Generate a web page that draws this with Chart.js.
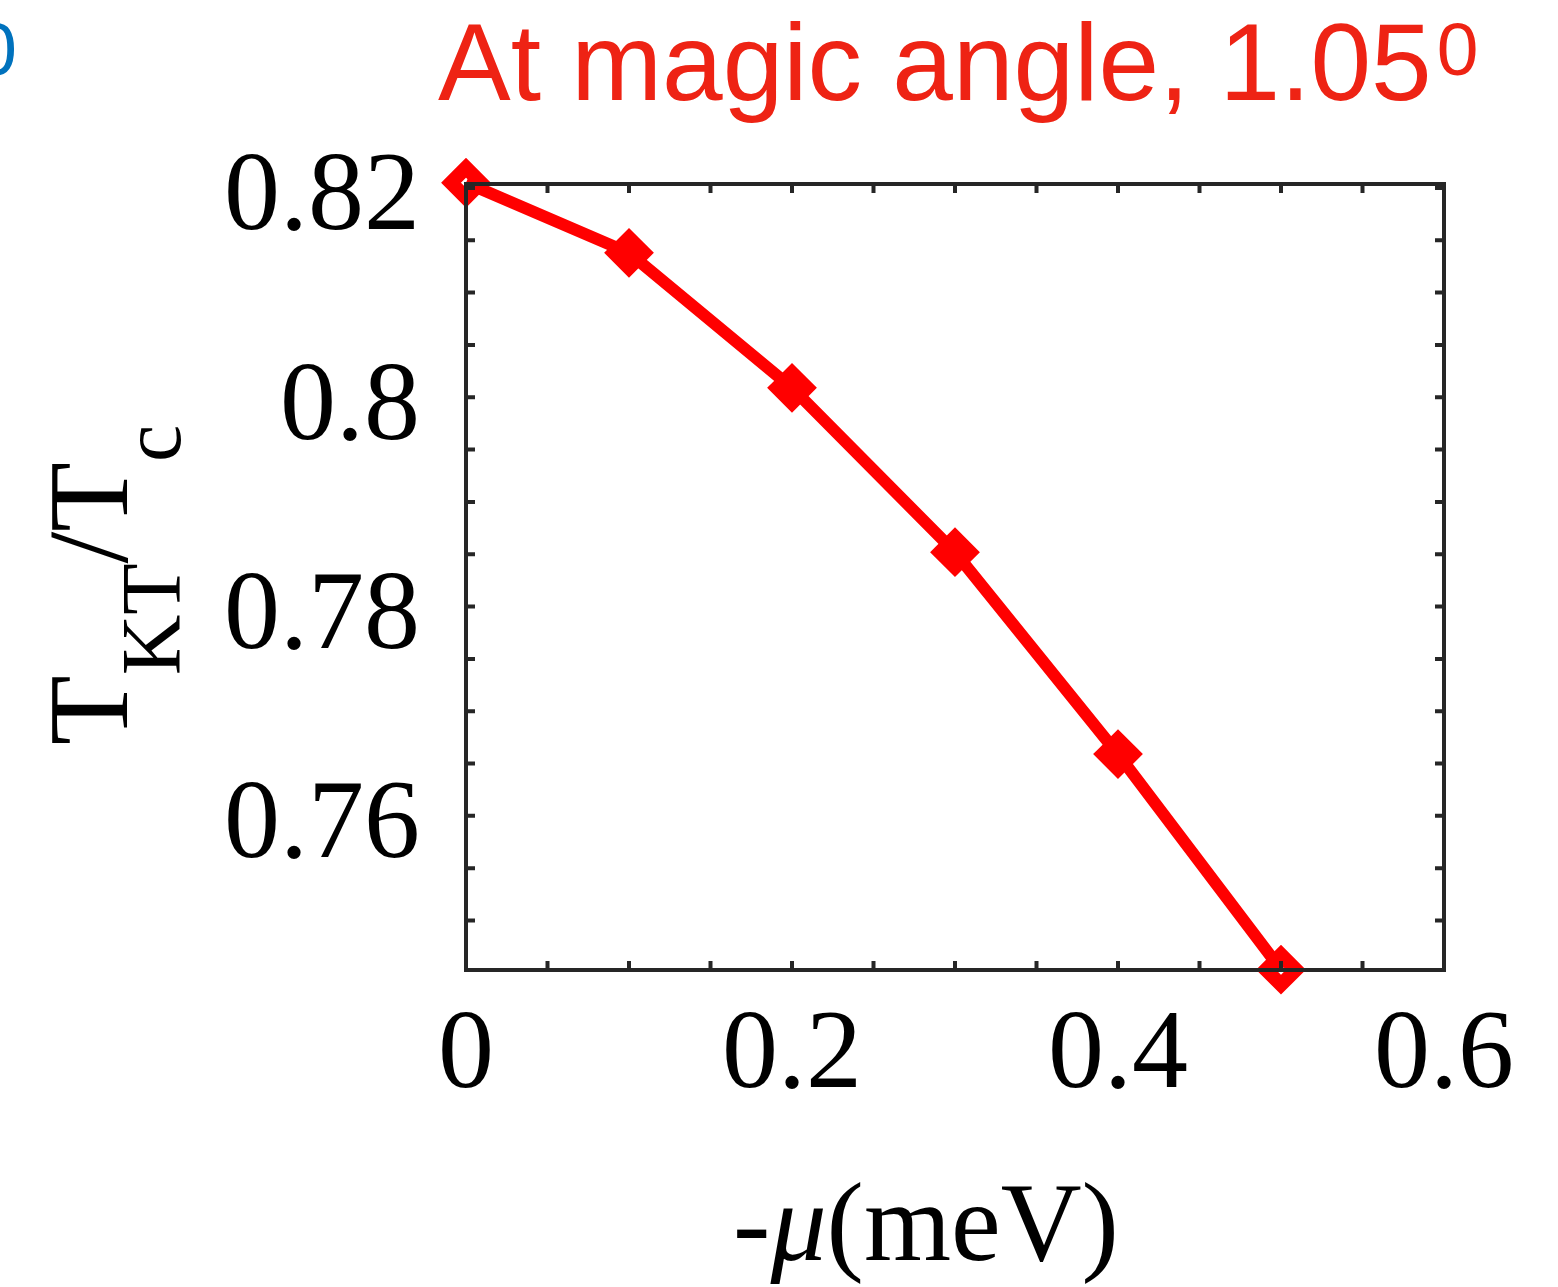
<!DOCTYPE html>
<html>
<head>
<meta charset="utf-8">
<script src="https://cdn.jsdelivr.net/npm/chart.js@4.4.0/dist/chart.umd.min.js"></script>
<style>
  body { margin: 0; background: #fff; }
  #wrap { width: 1558px; height: 1287px; }
</style>
</head>
<body>
<div id="wrap"><canvas id="magicChart" width="1558" height="1287"></canvas></div>
<script>
// -mu (meV) and T_KT/T_c
const muValues = [0, 0.1, 0.2, 0.3, 0.4, 0.5];
const tktcValues = [0.8205, 0.8138, 0.8009, 0.7852, 0.7659, 0.7453];

const xTickVals = [0, 0.05, 0.1, 0.15, 0.2, 0.25, 0.3, 0.35, 0.4, 0.45, 0.5, 0.55, 0.6];
const xTickLabels = ['0', '0.2', '0.4', '0.6'];
const yTickVals = [0.75, 0.755, 0.76, 0.765, 0.77, 0.775, 0.78, 0.785, 0.79, 0.795, 0.8, 0.805, 0.81, 0.815, 0.82];
const yTickLabels = ['0.76', '0.78', '0.8', '0.82'];

const SERIF = '"Liberation Serif", "Times New Roman", serif';
const SANS = '"Liberation Sans", Arial, sans-serif';
const AXIS_COLOR = '#262626';

function labelFor(v, list) {
  const s = String(parseFloat(v.toFixed(3)));
  return list.includes(s) ? s : '';
}

// frame, inward ticks on all four sides, title and axis titles
const decorPlugin = {
  id: 'decor',
  afterDraw(chart) {
    const ctx = chart.ctx;
    const a = chart.chartArea;
    const xs = chart.scales.x, ys = chart.scales.y;
    const tl = 9;
    ctx.save();
    ctx.strokeStyle = AXIS_COLOR;
    ctx.lineWidth = 4;
    ctx.beginPath();
    xTickVals.forEach(v => {
      const px = xs.getPixelForValue(v);
      ctx.moveTo(px, a.bottom); ctx.lineTo(px, a.bottom - tl);
      ctx.moveTo(px, a.top); ctx.lineTo(px, a.top + tl);
    });
    yTickVals.forEach(v => {
      const py = ys.getPixelForValue(v);
      ctx.moveTo(a.left, py); ctx.lineTo(a.left + tl, py);
      ctx.moveTo(a.right, py); ctx.lineTo(a.right - tl, py);
    });
    ctx.stroke();
    ctx.strokeRect(a.left, a.top, a.right - a.left, a.bottom - a.top);
    ctx.restore();
  },
  afterDatasetsDraw(chart) {
    const ctx = chart.ctx;
    ctx.save();
    // title
    ctx.fillStyle = '#ee2314';
    ctx.textBaseline = 'alphabetic';
    ctx.textAlign = 'left';
    ctx.font = '109px ' + SANS;
    const t = 'At magic angle, 1.05';
    ctx.fillText(t, 438, 100);
    const tw = ctx.measureText(t).width;
    ctx.font = '75px ' + SANS;
    ctx.fillText('0', 438 + tw + 5, 75);
    // cut-off title of the neighbouring panel
    ctx.fillStyle = '#0072bd';
    ctx.textAlign = 'right';
    ctx.fillText('0', 17, 75);

    // x axis title: -mu(meV)
    ctx.fillStyle = '#000';
    ctx.textAlign = 'left';
    const parts = [
      ['-', '112px ' + SERIF],
      ['\u03bc', 'italic 112px ' + SERIF],
      ['(meV)', '112px ' + SERIF]
    ];
    let total = 0;
    parts.forEach(p => { ctx.font = p[1]; total += ctx.measureText(p[0]).width; });
    let x = 926 - total / 2;
    parts.forEach(p => {
      ctx.font = p[1];
      ctx.fillText(p[0], x, 1260);
      x += ctx.measureText(p[0]).width;
    });

    // y axis title: T_KT / T_c (rotated)
    ctx.translate(127, 745);
    ctx.rotate(-Math.PI / 2);
    const main = '114px ' + SERIF, sub = '84px ' + SERIF;
    const ypieces = [
      ['T', main, 0],
      ['KT', sub, 53],
      ['/', main, 0],
      ['T', main, 0],
      ['c', sub, 53]
    ];
    let lx = 0;
    ypieces.forEach(p => {
      ctx.font = p[1];
      ctx.fillText(p[0], lx, p[2]);
      lx += ctx.measureText(p[0]).width;
    });
    ctx.restore();
  }
};

const ctx = document.getElementById('magicChart').getContext('2d');
const magicChart = new Chart(ctx, {
  type: 'line',
  data: {
    datasets: [{
      data: muValues.map((m, i) => ({ x: m, y: tktcValues[i] })),
      borderColor: '#ff0000',
      borderWidth: 12,
      pointStyle: 'rectRot',
      pointRadius: 15,
      pointBorderWidth: 14,
      pointBorderColor: '#ff0000',
      pointBackgroundColor: 'rgba(0,0,0,0)',
      tension: 0,
      clip: false
    }]
  },
  options: {
    responsive: false,
    animation: false,
    layout: { padding: { top: 184, right: 114, left: 0, bottom: 0 } },
    plugins: { legend: { display: false }, tooltip: { enabled: false } },
    scales: {
      x: {
        type: 'linear',
        min: 0,
        max: 0.6,
        afterFit: s => { s.height = 317; },
        afterBuildTicks: s => { s.ticks = xTickVals.map(v => ({ value: v })); },
        grid: { display: false, drawTicks: false },
        border: { display: false },
        ticks: {
          autoSkip: false,
          maxRotation: 0,
          padding: 20,
          color: '#000',
          font: { family: SERIF, size: 112 },
          callback: v => labelFor(v, xTickLabels)
        }
      },
      y: {
        type: 'linear',
        min: 0.74527,
        max: 0.82038,
        afterFit: s => { s.width = 466; },
        afterBuildTicks: s => { s.ticks = yTickVals.map(v => ({ value: v })); },
        grid: { display: false, drawTicks: false },
        border: { display: false },
        ticks: {
          autoSkip: false,
          padding: 46,
          labelOffset: 12,
          color: '#000',
          font: { family: SERIF, size: 112 },
          callback: v => labelFor(v, yTickLabels)
        }
      }
    }
  },
  plugins: [decorPlugin]
});
</script>
</body>
</html>
